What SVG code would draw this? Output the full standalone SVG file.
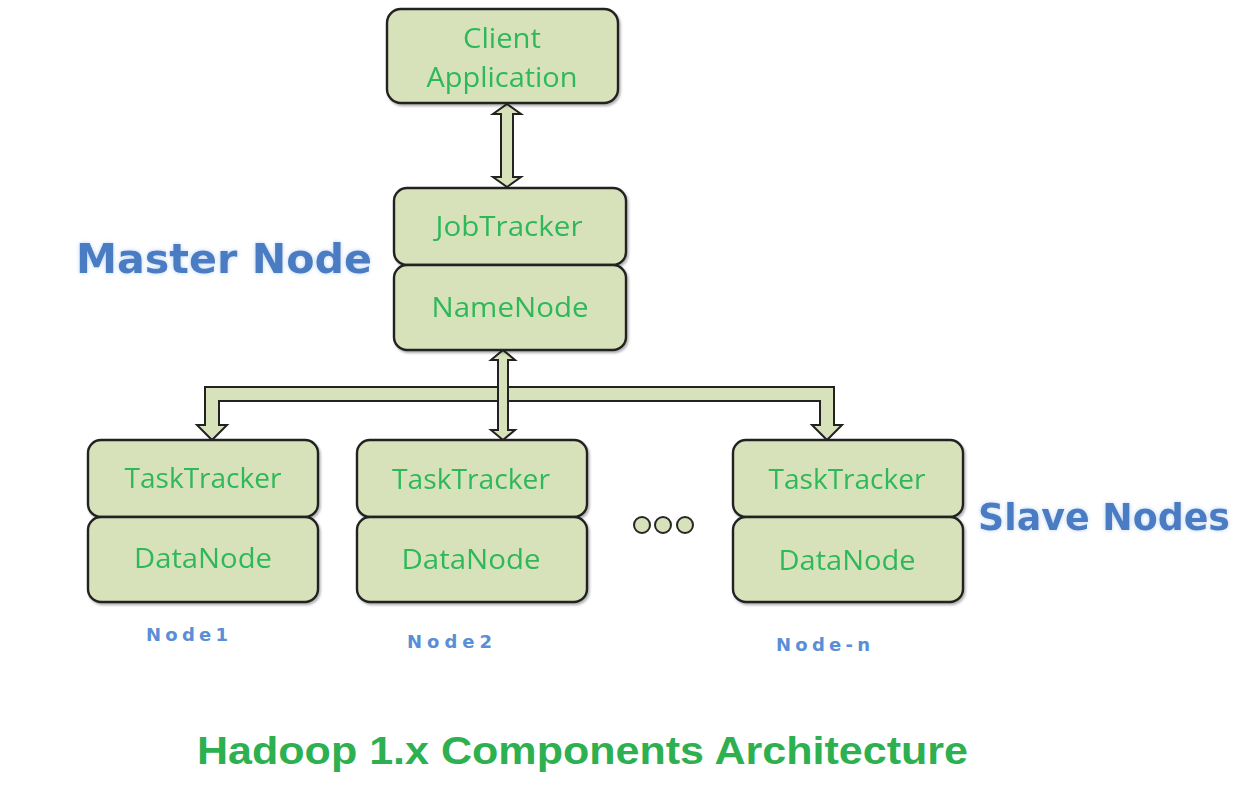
<svg xmlns="http://www.w3.org/2000/svg" width="1241" height="788" viewBox="0 0 1241 788">
<defs>
<filter id="sh" x="-10%" y="-10%" width="120%" height="130%">
<feDropShadow dx="1.5" dy="2" stdDeviation="1.2" flood-color="#000" flood-opacity="0.3"/>
</filter>
<filter id="glow" x="-5%" y="-20%" width="110%" height="140%">
<feGaussianBlur in="SourceAlpha" stdDeviation="2" result="b"/>
<feFlood flood-color="#bcd3f2" result="c"/>
<feComposite in="c" in2="b" operator="in" result="g"/>
<feMerge><feMergeNode in="g"/><feMergeNode in="SourceGraphic"/></feMerge>
</filter>
</defs>
<style>
.box{fill:#d7e2bb;stroke:#222222;stroke-width:2.4}
.arr{fill:#d7e2bb;stroke:#222222;stroke-width:2;stroke-linejoin:miter}
.t{font-family:"Open Sans","Liberation Sans",sans-serif;font-size:28px;fill:#2fb85a;text-anchor:middle}
.lbl{font-family:"DejaVu Sans","Liberation Sans",sans-serif;font-weight:bold;fill:#4a7cc2;filter:url(#glow)}
.small{font-family:"DejaVu Sans","Liberation Sans",sans-serif;font-weight:bold;font-size:18px;fill:#5a8ed6}
.title{font-family:"Liberation Sans",sans-serif;font-weight:bold;font-size:39px;fill:#2db04f}
.dot{fill:#d7e2bb;stroke:#262626;stroke-width:2}
</style>
<rect width="1241" height="788" fill="#ffffff"/>

<g id="connectors">
<polygon class="arr" points="507,104 521,114 513,114 513,177 521,177 507,187 493,177 501,177 501,114 493,114"/>
<polygon class="arr" points="205,425 205,387 834,387 834,425 842,425 827,440 812,425 820,425 820,401 219,401 219,425 227,425 212,440 197,425"/>
<polygon class="arr" points="503,350 515,360 508,360 508,430 515,430 503,440 491,430 498,430 498,360 491,360"/>
</g>

<g id="client" filter="url(#sh)">
<rect class="box" x="387" y="9" width="231" height="94" rx="14"/>
<text class="t" x="502" y="48" textLength="78" lengthAdjust="spacingAndGlyphs">Client</text>
<text class="t" x="502" y="87" textLength="151" lengthAdjust="spacingAndGlyphs">Application</text>
</g>

<g id="master" filter="url(#sh)">
<rect class="box" x="394" y="188" width="232" height="77" rx="13"/>
<rect class="box" x="394" y="265" width="232" height="85" rx="13"/>
<text class="t" x="509" y="236" textLength="147" lengthAdjust="spacingAndGlyphs">JobTracker</text>
<text class="t" x="510" y="317" textLength="157" lengthAdjust="spacingAndGlyphs">NameNode</text>
</g>

<g id="node1" filter="url(#sh)">
<rect class="box" x="88" y="440" width="230" height="77" rx="13"/>
<rect class="box" x="88" y="517" width="230" height="85" rx="13"/>
<text class="t" x="203" y="488" textLength="157" lengthAdjust="spacingAndGlyphs">TaskTracker</text>
<text class="t" x="203" y="568" textLength="138" lengthAdjust="spacingAndGlyphs">DataNode</text>
</g>

<g id="node2" filter="url(#sh)">
<rect class="box" x="357" y="440" width="230" height="77" rx="13"/>
<rect class="box" x="357" y="517" width="230" height="85" rx="13"/>
<text class="t" x="471" y="489" textLength="158" lengthAdjust="spacingAndGlyphs">TaskTracker</text>
<text class="t" x="471" y="569" textLength="139" lengthAdjust="spacingAndGlyphs">DataNode</text>
</g>

<g id="noden" filter="url(#sh)">
<rect class="box" x="733" y="440" width="230" height="77" rx="13"/>
<rect class="box" x="733" y="517" width="230" height="85" rx="13"/>
<text class="t" x="847" y="489" textLength="157" lengthAdjust="spacingAndGlyphs">TaskTracker</text>
<text class="t" x="847" y="570" textLength="137" lengthAdjust="spacingAndGlyphs">DataNode</text>
</g>

<g id="ellipsis">
<circle class="dot" cx="642" cy="525" r="8"/>
<circle class="dot" cx="663" cy="525" r="8"/>
<circle class="dot" cx="685" cy="525" r="8"/>
</g>

<g id="labels">
<text class="lbl" x="76" y="273" font-size="40" textLength="296" lengthAdjust="spacingAndGlyphs">Master Node</text>
<text class="lbl" x="978" y="530" font-size="38" textLength="252" lengthAdjust="spacingAndGlyphs">Slave Nodes</text>
<text class="small" x="146" y="641" textLength="82" lengthAdjust="spacing">Node1</text>
<text class="small" x="407" y="648" textLength="85" lengthAdjust="spacing">Node2</text>
<text class="small" x="776" y="651" textLength="94" lengthAdjust="spacing">Node-n</text>
<text class="title" x="197" y="764" textLength="771" lengthAdjust="spacingAndGlyphs">Hadoop 1.x Components Architecture</text>
</g>
</svg>
